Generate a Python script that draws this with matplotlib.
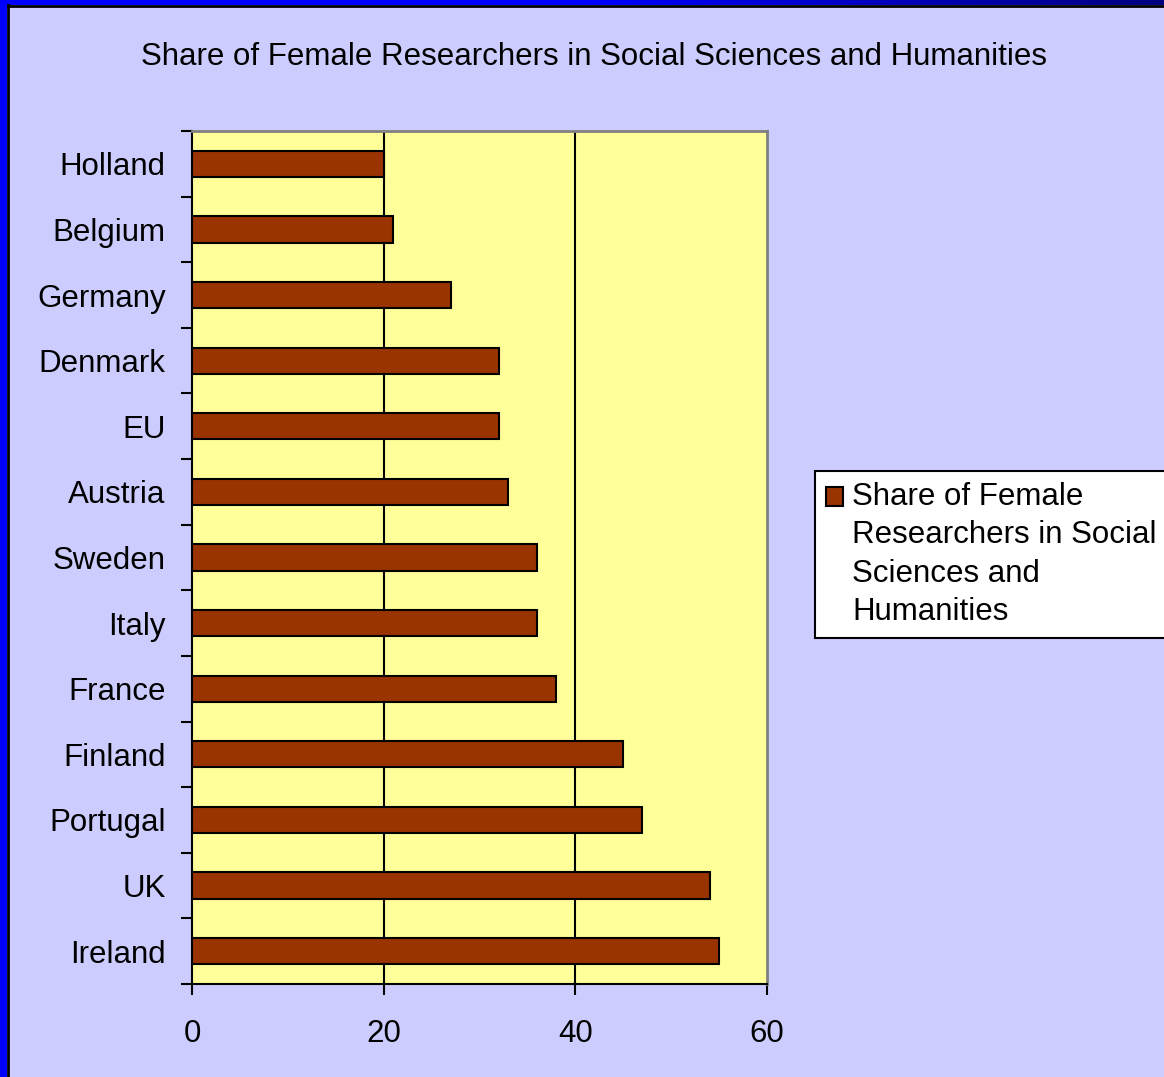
import numpy as np
import matplotlib.pyplot as plt
from matplotlib.patches import Rectangle
from matplotlib.legend_handler import HandlerPatch

plt.rcParams['font.family'] = ['Liberation Sans', 'DejaVu Sans']

# data, top to bottom as drawn
countries = ['Holland', 'Belgium', 'Germany', 'Denmark', 'EU', 'Austria', 'Sweden',
             'Italy', 'France', 'Finland', 'Portugal', 'UK', 'Ireland']
share = [20, 21, 27, 32, 32, 33, 36, 36, 38, 45, 47, 54, 55]
xticks = [0, 20, 40, 60]

title = 'Share of Female Researchers in Social Sciences and Humanities'
legend_label = 'Share of Female\nResearchers in Social\nSciences and\nHumanities'

fs = 22.5
spacing = 1.37


class TopHandler(HandlerPatch):
    # put the legend square next to the first line of the wrapped label
    def create_artists(self, legend, orig_handle, xdescent, ydescent, width, height,
                       fontsize, trans):
        shift = 1.5 * 39 * 0.72
        return super().create_artists(legend, orig_handle, xdescent, ydescent - shift,
                                      width, height, fontsize, trans)


fig = plt.figure(figsize=(11.64, 10.77), dpi=100)
fig.patch.set_facecolor('#CCCCFF')

# blue frame on left and top
fig.patches.append(Rectangle((0, 0), 7 / 1164, 1, transform=fig.transFigure,
                             facecolor='#0000FF', edgecolor='none', zorder=0))
grad = np.linspace(0, 1, 256).reshape(1, -1)
top_ax = fig.add_axes([0, 1 - 5 / 1077, 1, 5 / 1077])
top_ax.imshow(grad, aspect='auto', cmap=plt.matplotlib.colors.LinearSegmentedColormap.from_list(
    'bar', ['#0000FF', '#0000FF', '#000080']))
top_ax.set_axis_off()
fig.add_artist(plt.Line2D([8 / 1164, 8 / 1164], [0, 1 - 5 / 1077], transform=fig.transFigure,
                          color='black', lw=2))
fig.add_artist(plt.Line2D([8 / 1164, 1], [1 - 6 / 1077, 1 - 6 / 1077], transform=fig.transFigure,
                          color='black', lw=2))

ax = fig.add_axes([192 / 1164, 1 - 984 / 1077, 575 / 1164, 853 / 1077])
ax.set_facecolor('#FFFF99')

y = np.arange(len(countries))
bars = ax.barh(y, share, height=0.4, color='#993300', edgecolor='black', linewidth=1.5,
               label=legend_label, zorder=3)

ax.set_xlim(0, 60)
ax.set_ylim(len(countries) - 0.5, -0.5)
ax.set_xticks(xticks)
ax.set_yticks(y)
ax.set_yticklabels(countries)
ax.set_yticks(np.arange(len(countries) + 1) - 0.5, minor=True)
ax.tick_params(axis='y', which='major', length=0, pad=19, labelsize=fs)
ax.tick_params(axis='y', which='minor', length=8, width=1.5, direction='out')
ax.tick_params(axis='x', length=8, width=1.5, direction='out', pad=17, labelsize=fs)

for v in [20, 40]:
    ax.axvline(v, color='black', lw=1.5, zorder=2)

ax.spines['left'].set_linewidth(1.5)
ax.spines['bottom'].set_linewidth(1.5)
for s in ['top', 'right']:
    ax.spines[s].set_color('#808080')
    ax.spines[s].set_linewidth(2)

fig.text(594 / 1164, 1 - 57 / 1077, title, ha='center', va='center', fontsize=fs)

leg = fig.legend(handles=[bars[0]], labels=[legend_label], loc='upper left',
                 bbox_to_anchor=(815 / 1164, 1 - 471 / 1077), fontsize=fs,
                 fancybox=False, framealpha=1, edgecolor='black', borderpad=0.35,
                 handlelength=0.55, handleheight=0.55, handletextpad=0.3,
                 borderaxespad=0, handler_map={Rectangle: TopHandler()})
leg.get_frame().set_linewidth(1.5)
for t in leg.get_texts():
    t.set_linespacing(spacing)

fig.savefig('out.png', dpi=100, facecolor=fig.get_facecolor())
